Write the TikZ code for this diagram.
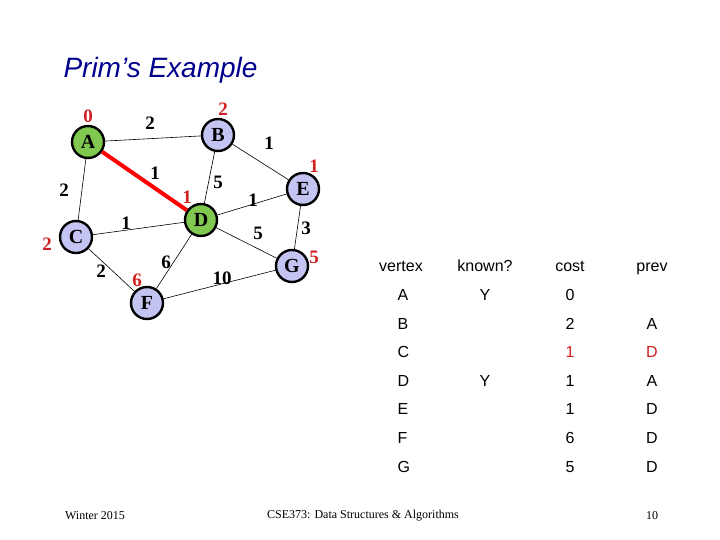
\documentclass[tikz,border=0pt]{standalone}
\usepackage{fontspec}
\setmainfont{Liberation Serif}
\newfontfamily\arial{Liberation Sans}
\definecolor{gr}{HTML}{80C850}
\definecolor{lv}{HTML}{C4C4F2}
\definecolor{rd}{HTML}{D02020}
\begin{document}
\begin{tikzpicture}[x=1pt,y=-1pt,
 vtx/.style={circle,draw,line width=2.4pt,minimum size=32pt,inner sep=0pt,font=\fontsize{20}{20}\selectfont\bfseries},
 done/.style={vtx,fill=gr},
 todo/.style={vtx,fill=lv},
 edge/.style={line width=0.6pt},
 wt/.style={font=\fontsize{19}{19}\selectfont\bfseries},
 rd/.style={wt,text=rd},
 tb/.style={font=\arial\fontsize{16}{16}\selectfont,text height=12pt,text depth=3pt},
 tbr/.style={tb,text=rd}]
\path[use as bounding box] (0,0) rectangle (720,540);
\node[font=\arial\itshape\fontsize{28}{28}\selectfont,text=blue!55!black,anchor=west] (title) at (60,70) {Prim’s Example};
\node[done] (A) at (88,142) {A};
\node[todo] (B) at (218,135) {B};
\node[todo] (E) at (303,189) {E};
\node[done] (D) at (201,220) {D};
\node[todo] (C) at (76,237) {C};
\node[todo] (G) at (292,266) {G};
\node[todo] (F) at (147,303) {F};
\draw[edge] (A)--(B); \draw[edge] (A)--(C); \draw[edge] (B)--(E); \draw[edge] (B)--(D);
\draw[edge] (D)--(E); \draw[edge] (C)--(D); \draw[edge] (D)--(G); \draw[edge] (E)--(G);
\draw[edge] (C)--(F); \draw[edge] (D)--(F); \draw[edge] (F)--(G);
\draw[red,line width=4pt] (A)--(D);
\node[wt] (w1) at (150,123) {2}; \node[wt] (w2) at (155,173) {1};
\node[wt] (w3) at (64,190) {2}; \node[wt] (w4) at (269,143) {1};
\node[wt] (w5) at (218,182) {5}; \node[wt] (w6) at (253,200) {1};
\node[wt] (w7) at (126,223) {1}; \node[wt] (w8) at (258,233) {5};
\node[wt] (w9) at (306,228) {3}; \node[wt] (w10) at (101,271) {2};
\node[wt] (w11) at (166,262) {6}; \node[wt] (w12) at (222,278) {10};
\node[rd] (dA) at (88,116) {0}; \node[rd] (dB) at (223,109) {2};
\node[rd] (dE) at (314,166) {1}; \node[rd] (dD) at (187,197) {1};
\node[rd] (dC) at (47,244) {2}; \node[rd] (dG) at (314,257) {5};
\node[rd] (dF) at (137,280) {6};
\node[tb] (h1) at (401,267) {vertex}; \node[tb] (h2) at (485,267) {known?};
\node[tb] (h3) at (570,267) {cost}; \node[tb] (h4) at (652,267) {prev};
\foreach \v/\k/\c/\p/\y in {A/Y/0//296,B//2/A/325,D/Y/1/A/382,E//1/D/410,F//6/D/439,G//5/D/468}{
 \node[tb,anchor=west] (v\v) at (394,\y) {\v};
 \node[tb] (k\v) at (485,\y) {\k};
 \node[tb] (c\v) at (570,\y) {\c};
 \node[tb] (p\v) at (652,\y) {\p};}
\node[tb,anchor=west] (vC) at (394,353) {C};
\node[tbr] (cC) at (570,353) {1}; \node[tbr] (pC) at (652,353) {D};
\node[font=\fontsize{12}{12}\selectfont] (f1) at (95,516) {Winter 2015};
\node[font=\fontsize{12}{12}\selectfont] (f2) at (363,516) {CSE373: Data Structures \& Algorithms};
\node[font=\fontsize{12}{12}\selectfont] (f3) at (652,516) {10};
\end{tikzpicture}
\end{document}
